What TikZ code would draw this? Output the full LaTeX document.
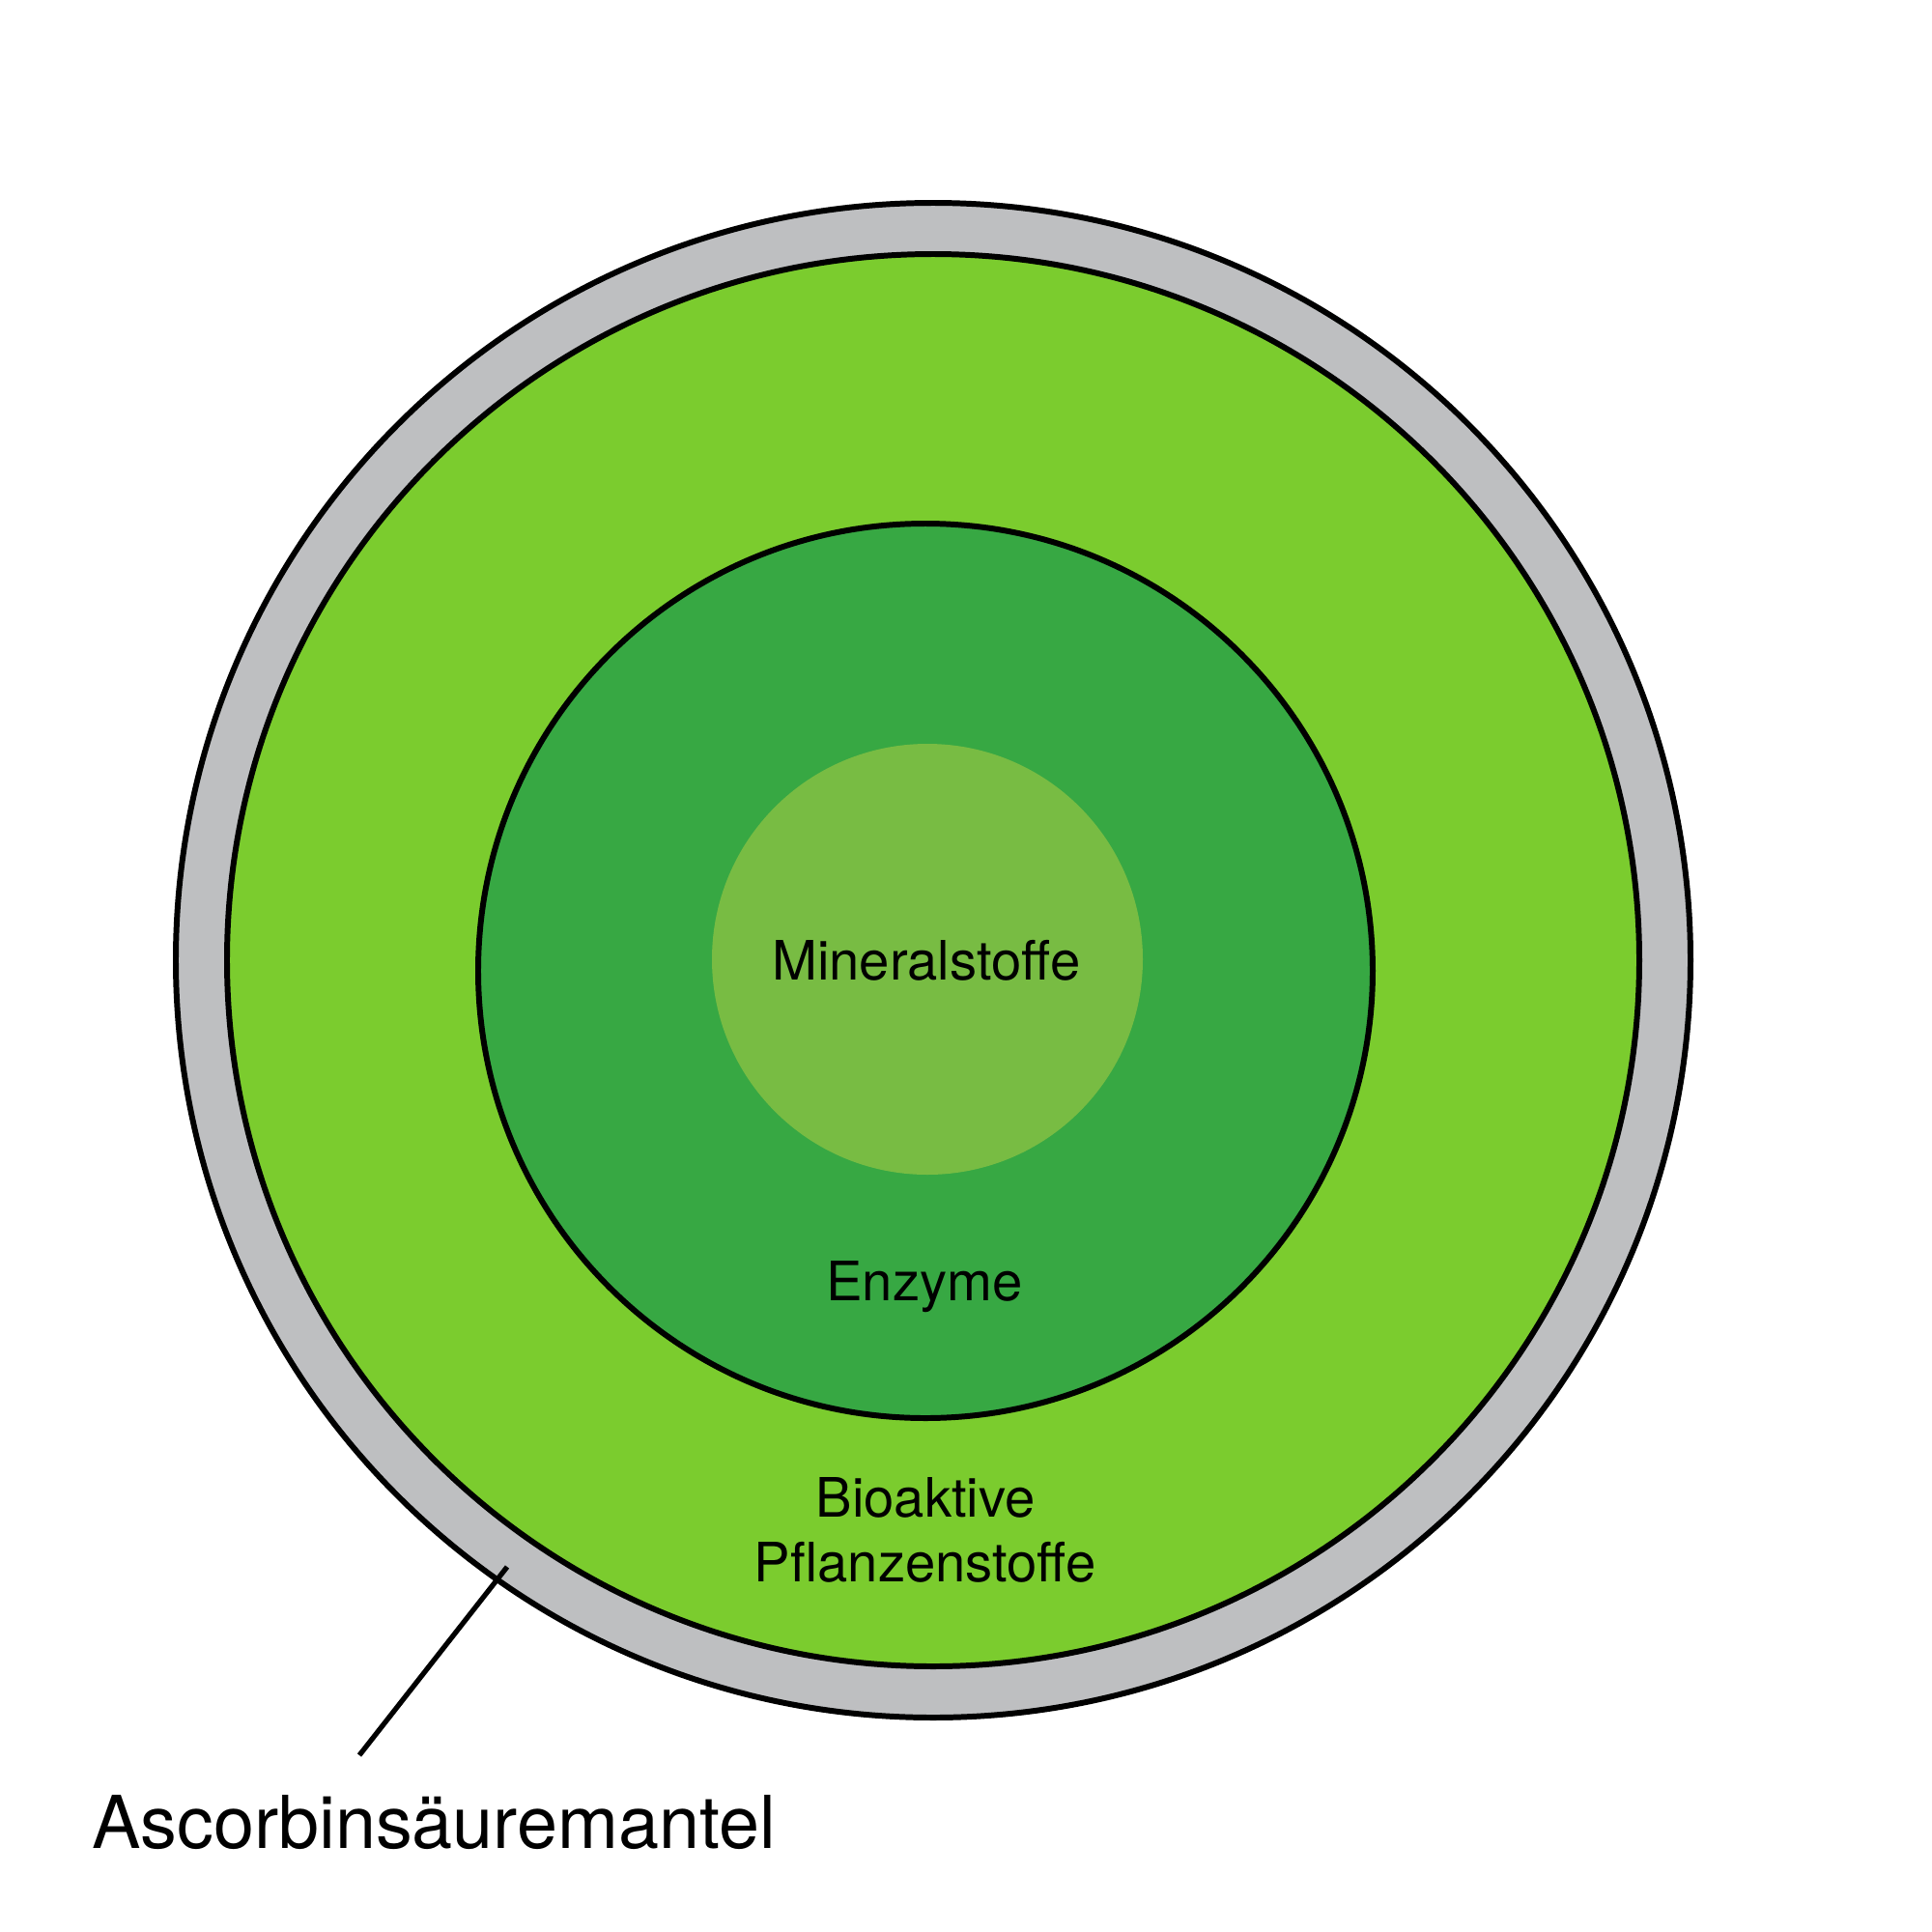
\documentclass[tikz,border=0pt]{standalone}
\usepackage{fontspec}
\setmainfont{TeX Gyre Heros}
\definecolor{mantelgrau}{HTML}{BEBFC1}
\definecolor{hellgruen}{HTML}{7BCC2E}
\definecolor{dunkelgruen}{HTML}{37A843}
\definecolor{kerngruen}{HTML}{78BC43}
\begin{document}
\begin{tikzpicture}[xscale=1,yscale=1]
				% Styles (MODIFIABLES)
				\tikzstyle{schicht}=[circle,draw=black,line width=1.7pt,inner sep=0pt]
				\tikzstyle{kern}=[circle,inner sep=0pt]
				\tikzstyle{beschriftung}=[black,font=\fontsize{16}{19}\selectfont,align=center]
				\tikzstyle{legende}=[black,font=\fontsize{21.5}{25}\selectfont]
				\tikzstyle{strich}=[-,line width=1.5pt]
				% Dimensions (MODIFIABLES)
				\def\RayonMantel{7.84}
				\def\RayonPflanzen{7.31}
				\def\RayonEnzyme{4.63}
				\def\RayonMineral{2.23}
				% Cadre
				\useasboundingbox (0,0) rectangle (20,-20);
				% Couches
				\node[schicht,fill=mantelgrau,minimum size={2*\RayonMantel cm}] (mantel) at (9.66,-9.94) {};
				\node[schicht,fill=hellgruen,minimum size={2*\RayonPflanzen cm}] (pflanzen) at (9.66,-9.94) {};
				\node[schicht,fill=dunkelgruen,minimum size={2*\RayonEnzyme cm}] (enzyme) at (9.58,-10.05) {};
				\node[kern,fill=kerngruen,minimum size={2*\RayonMineral cm}] (mineral) at (9.60,-9.93) {};
				% Textes
				\node[beschriftung] (tmineral) at (9.59,-9.94) {Mineralstoffe};
				\node[beschriftung] (tenzyme) at (9.57,-13.32) {Enzyme};
				\node[beschriftung] (tpflanzen) at (9.58,-15.84) {Bioaktive\\Pflanzenstoffe};
				\node[legende] (tmantel) at (4.49,-18.87) {Ascorbinsäuremantel};
				% Trait
				\coordinate (spitze) at (5.25,-16.22);
				\coordinate (fuss) at (3.72,-18.17);
				\draw[strich] (fuss)--(spitze);
			\end{tikzpicture}
\end{document}
